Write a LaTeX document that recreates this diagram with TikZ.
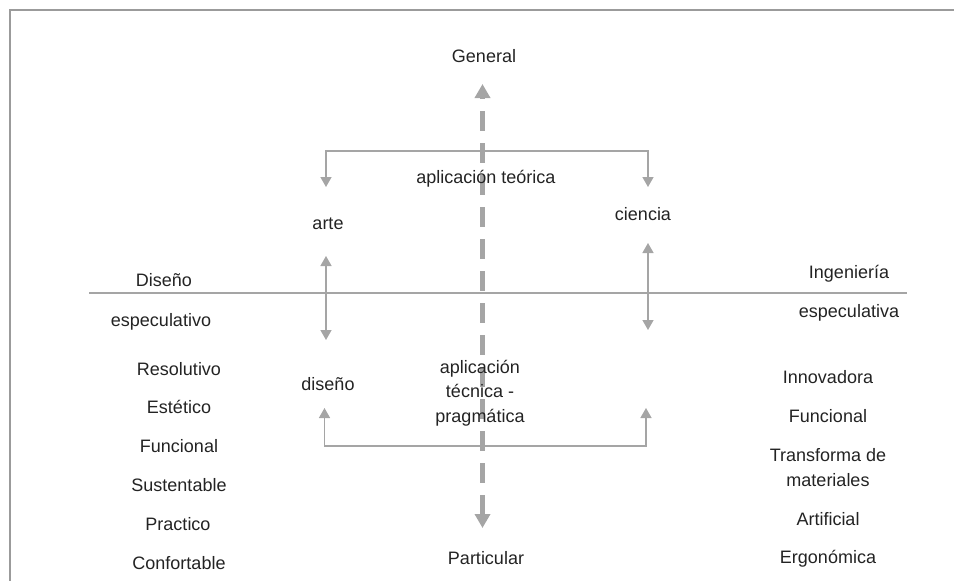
\documentclass[tikz,border=0pt]{standalone}
\usepackage{fontspec}
\setmainfont{Liberation Sans}
\usetikzlibrary{arrows.meta}
\definecolor{linegray}{RGB}{165,165,165}
\definecolor{framegray}{RGB}{155,155,155}
\definecolor{textgray}{RGB}{35,35,35}
\tikzset{
	lbl/.style={text=textgray, font=\fontsize{18}{24.5}\selectfont, inner sep=0pt, anchor=base, align=center},
	thinarrow/.style={draw=linegray, line width=1.4pt, {Triangle[width=11pt,length=10pt]}-{Triangle[width=11pt,length=10pt]}},
	bigarrow/.style={draw=linegray, line width=5pt, dash pattern=on 20pt off 12pt, {Triangle[width=15pt,length=14pt]}-{Triangle[width=15pt,length=14pt]}}
}
\begin{document}
\begin{tikzpicture}[x=1pt, y=-1pt]
		\useasboundingbox (0,0) rectangle (954,581);

		% marco
		\draw[framegray, line width=2pt] (10,581) -- (10,10) -- (954,10);
		\draw[linegray, line width=1.6pt] (89,293) -- (907,293);

		% eje vertical
		\node[lbl] (general) at (484,62) {General};
		\node[lbl] (particular) at (486,564) {Particular};
		\coordinate (gtip) at (482.5,84);
		\coordinate (ptip) at (482.5,528);
		\draw[bigarrow] (ptip) -- (gtip);

		% centro
		\node[lbl] (teorica) at (486,183) {aplicación teórica};
		\node[lbl] (arte) at (328,229) {arte};
		\node[lbl] (ciencia) at (643,220) {ciencia};
		\node[lbl] (diseno) at (328,390) {diseño};
		\node[lbl, anchor=north] (tecnica) at (480,360) {aplicación\\técnica -\\pragmática};

		\coordinate (artetip) at (326,187);
		\coordinate (cientip) at (648,187);
		\draw[thinarrow] (artetip) -- ++(0,-36) -| (cientip);

		\coordinate (disetip) at (324.5,408);
		\coordinate (ingtip) at (646,408);
		\draw[thinarrow] (disetip) -- ++(0,38) -| (ingtip);

		\coordinate (arteA) at (326,256);
		\coordinate (arteB) at (326,340);
		\draw[thinarrow] (arteA) -- (arteB);
		\coordinate (cienA) at (648,243);
		\coordinate (cienB) at (648,330);
		\draw[thinarrow] (cienA) -- (cienB);

		% columna izquierda
		\node[lbl] (dis) at (164,286) {Diseño};
		\node[lbl] (espizq) at (161,326) {especulativo};
		\node[lbl] (resol) at (179,375) {Resolutivo};
		\node[lbl] (estet) at (179,413) {Estético};
		\node[lbl] (funizq) at (179,452) {Funcional};
		\node[lbl] (sust) at (179,491) {Sustentable};
		\node[lbl] (pract) at (178,530) {Practico};
		\node[lbl] (confort) at (179,569) {Confortable};

		% columna derecha
		\node[lbl] (ing) at (849,278) {Ingeniería};
		\node[lbl] (espder) at (849,317) {especulativa};
		\node[lbl] (innov) at (828,383) {Innovadora};
		\node[lbl] (funder) at (828,422) {Funcional};
		\node[lbl] (transf) at (828,461) {Transforma de};
		\node[lbl] (mater) at (828,486) {materiales};
		\node[lbl] (artif) at (828,525) {Artificial};
		\node[lbl] (ergo) at (828,563) {Ergonómica};
	\end{tikzpicture}
\end{document}
